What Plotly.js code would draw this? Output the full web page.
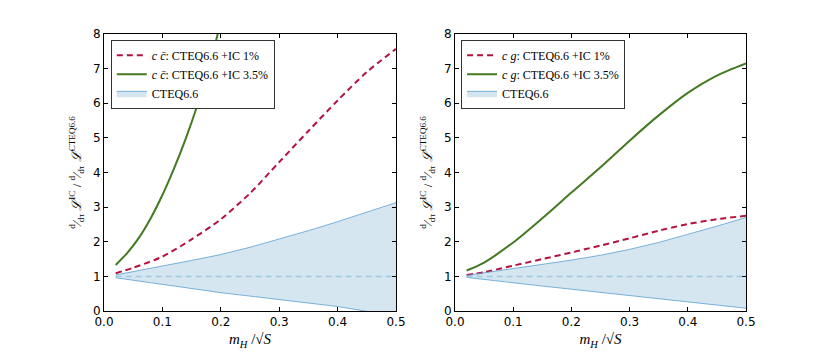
<!DOCTYPE html>
<html>
<head>
<meta charset="utf-8">
<script src="https://cdn.plot.ly/plotly-3.0.1.min.js"></script>
<style>body{margin:0;background:#fff}#plot{width:830px;height:356px}</style>
</head>
<body>
<div id="plot"></div>
<script>
// m_H / sqrt(S)
var xs = [0.02, 0.05, 0.10, 0.15, 0.20, 0.25, 0.30, 0.35, 0.40, 0.45, 0.50];

// left panel: c cbar
var ccIC1 = [1.09, 1.25, 1.57, 2.07, 2.65, 3.40, 4.30, 5.20, 6.08, 6.90, 7.57];
var ccXs35 = [0.02, 0.04, 0.06, 0.08, 0.10, 0.12, 0.14, 0.16, 0.18, 0.20];
var ccIC35 = [1.33, 1.68, 2.12, 2.68, 3.35, 4.12, 4.98, 5.95, 7.05, 8.35];
var ccUpper = [1.04, 1.13, 1.30, 1.46, 1.63, 1.84, 2.07, 2.32, 2.58, 2.85, 3.13];
var ccLower = [0.96, 0.89, 0.76, 0.64, 0.53, 0.43, 0.33, 0.23, 0.13, -0.01, -0.14];

// right panel: c g
var cgIC1 = [1.04, 1.12, 1.31, 1.50, 1.69, 1.89, 2.10, 2.32, 2.51, 2.65, 2.75];
var cgIC35 = [1.17, 1.40, 1.98, 2.68, 3.42, 4.15, 4.92, 5.65, 6.30, 6.80, 7.15];
var cgUpper = [1.03, 1.10, 1.22, 1.34, 1.47, 1.61, 1.78, 1.98, 2.21, 2.45, 2.70];
var cgLower = [0.97, 0.91, 0.80, 0.72, 0.63, 0.54, 0.45, 0.36, 0.27, 0.17, 0.08];

var central = xs.map(function () { return 1; });

var red = '#b5133f', green = '#437a22', blue = '#5b9fd0';
var fillBlue = 'rgba(116,173,209,0.3)';

function panel(n, ic1, x35, ic35, upper, lower, label) {
  var xa = n === 1 ? 'x' : 'x2', ya = n === 1 ? 'y' : 'y2';
  var lg = n === 1 ? 'legend' : 'legend2';
  return [
    {x: xs, y: ic1, xaxis: xa, yaxis: ya, type: 'scatter', mode: 'lines',
     line: {color: red, width: 2, dash: '6px,4px', shape: 'spline', smoothing: 0.8},
     name: label + ': CTEQ6.6 +IC 1%', legend: lg},
    {x: x35, y: ic35, xaxis: xa, yaxis: ya, type: 'scatter', mode: 'lines',
     line: {color: green, width: 2, shape: 'spline', smoothing: 0.8},
     name: label + ': CTEQ6.6 +IC 3.5%', legend: lg},
    {x: xs, y: lower, xaxis: xa, yaxis: ya, type: 'scatter', mode: 'lines',
     line: {color: blue, width: 0.8}, showlegend: false, hoverinfo: 'skip', legend: lg},
    {x: xs, y: upper, xaxis: xa, yaxis: ya, type: 'scatter', mode: 'lines',
     fill: 'tonexty', fillcolor: fillBlue, line: {color: blue, width: 0.8},
     name: 'CTEQ6.6', legend: lg},
    {x: xs, y: central, xaxis: xa, yaxis: ya, type: 'scatter', mode: 'lines',
     line: {color: '#9ecae1', width: 1.5, dash: '6px,4px'}, showlegend: false, legend: lg}
  ];
}

var data = panel(1, ccIC1, ccXs35, ccIC35, ccUpper, ccLower, '<i>c c\u0304</i>')
  .concat(panel(2, cgIC1, xs, cgIC35, cgUpper, cgLower, '<i>c g</i>'));

var tickFont = {family: 'DejaVu Sans', size: 12, color: '#000'};
var mathFont = {family: 'Liberation Serif', size: 15, color: '#000'};
var xTitle = '<i>m<sub>H</sub></i> /\u221A<i>S</i>';
var yTitle = '<sup>d</sup>\u2044<sub>d\u03C4</sub> <i>\u2112</i><sup>IC</sup> / <sup>d</sup>\u2044<sub>d\u03C4</sub> <i>\u2112</i><sup>CTEQ6.6</sup>';

function xaxis(dom) {
  return {domain: dom, range: [0, 0.5], dtick: 0.1, tickformat: '.1f',
    ticks: 'inside', ticklen: 4, tickcolor: '#000', mirror: 'ticks',
    showline: true, linecolor: '#000', linewidth: 1, showgrid: false, zeroline: false,
    tickfont: tickFont, title: {text: xTitle, font: mathFont, standoff: 5}};
}
function yaxis(anchor) {
  return {domain: [0.1264, 0.9045], range: [0, 8], dtick: 1, anchor: anchor,
    ticks: 'inside', ticklen: 4, tickcolor: '#000', mirror: 'ticks',
    showline: true, linecolor: '#000', linewidth: 1, showgrid: false, zeroline: false,
    tickfont: tickFont, title: {text: yTitle, font: {family: 'Liberation Serif', size: 13, color: '#000'}, standoff: 8}};
}
function legend(x) {
  return {x: x, y: 0.888, xanchor: 'left', yanchor: 'top', traceorder: 'normal',
    bgcolor: '#fff', bordercolor: '#333', borderwidth: 1,
    font: {family: 'Liberation Serif', size: 12, color: '#000'},
    tracegroupgap: 0, itemwidth: 30};
}

var layout = {
  width: 830, height: 356,
  margin: {l: 0, r: 0, t: 0, b: 0},
  paper_bgcolor: '#fff', plot_bgcolor: '#fff',
  xaxis: Object.assign(xaxis([0.1253, 0.4771]), {anchor: 'y'}),
  yaxis: yaxis('x'),
  xaxis2: Object.assign(xaxis([0.5482, 0.8988]), {anchor: 'y2'}),
  yaxis2: yaxis('x2'),
  legend: legend(0.1335),
  legend2: legend(0.5555),
  showlegend: true
};

Plotly.newPlot('plot', data, layout, {staticPlot: true});
</script>
</body>
</html>
